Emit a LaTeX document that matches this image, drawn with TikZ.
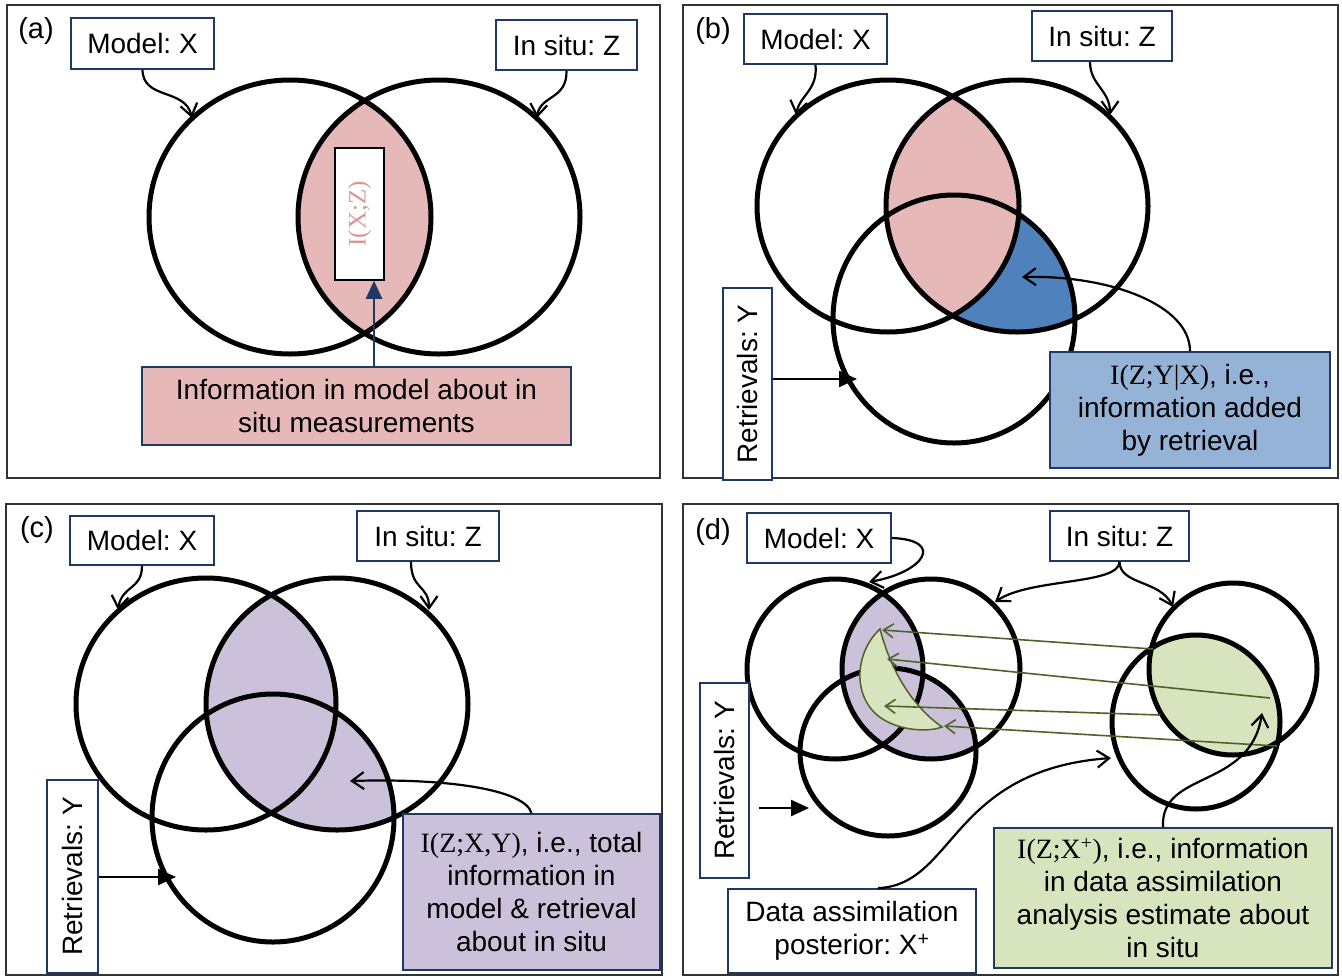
\documentclass[tikz,border=0pt]{standalone}
\usepackage{fontspec}
\setmainfont{Liberation Sans}
\newfontfamily\eqfont{Liberation Serif}
\frenchspacing
\usetikzlibrary{arrows.meta}
\definecolor{BoxClr}{rgb}{0.122,0.220,0.392}
\definecolor{PinkClr}{rgb}{0.902,0.725,0.722}
\definecolor{PinkTxt}{rgb}{0.851,0.588,0.580}
\definecolor{BlueClr}{rgb}{0.310,0.506,0.741}
\definecolor{BlueBox}{rgb}{0.584,0.702,0.843}
\definecolor{LilacClr}{rgb}{0.800,0.757,0.855}
\definecolor{LeafClr}{rgb}{0.843,0.894,0.741}
\definecolor{OliveClr}{rgb}{0.310,0.384,0.157}

\begin{document}
\begin{tikzpicture}[x=1pt,y=-1pt,
  panel/.style={draw=black!80,line width=2pt},
  ring/.style={draw=black,line width=5pt},
  tag/.style={draw=BoxClr,line width=1.8pt,fill=white,inner sep=0pt,
    font=\fontsize{28}{33}\selectfont},
  note/.style={tag,align=center},
  letter/.style={font=\fontsize{29}{33}\selectfont},
  pointer/.style={line width=2.2pt,-{Straight Barb[length=12pt,width=17pt]}},
  push/.style={line width=2.4pt,-{Triangle[length=18pt,width=16pt]}},
  ray/.style={draw=OliveClr,line width=1.6pt,-{Straight Barb[length=10pt,width=14pt]}}]
\useasboundingbox (0,0) rectangle (1342,978);
\fill[white] (0,0) rectangle (1342,978);

% (a)
\draw[panel] (7,5) rectangle (660,478);
\node[letter] (a-tag) at (36,31) {(a)};
\node[tag,minimum width=143,minimum height=51] (a-model) at (142.5,43.5) {Model: X};
\node[tag,minimum width=141,minimum height=50] (a-situ) at (566.5,45) {In situ: Z};
\coordinate (a-X) at (290,217);
\coordinate (a-Z) at (439,217);
\begin{scope}
  \clip (a-X) ellipse [x radius=141,y radius=137];
  \fill[PinkClr] (a-Z) ellipse [x radius=141,y radius=137];
\end{scope}
\draw[ring] (a-X) ellipse [x radius=141,y radius=137]
            (a-Z) ellipse [x radius=141,y radius=137];
\node[draw=black,line width=1.5pt,fill=white,inner sep=0pt,rotate=90,
  minimum width=132,minimum height=49,text=PinkTxt,
  font=\eqfont\fontsize{25}{30}\selectfont] (a-mi) at (359.5,214) {I(X;Z)};
\node[note,fill=PinkClr,minimum width=429,minimum height=78] (a-info) at (356.5,406)
  {Information in model about in\\situ measurements};
\coordinate (a-tipX) at (192,118);
\coordinate (a-tipZ) at (537,118);
\coordinate (a-foot) at (374,367);
\draw[pointer] (a-model.south) .. controls (143,100) and (185,88) .. (a-tipX);
\draw[pointer] (a-situ.south) .. controls (567,100) and (540,95) .. (a-tipZ);
\draw[push,draw=BoxClr,fill=BoxClr] (a-foot) -- (a-foot |- a-mi.west);

% (b)
\draw[panel] (683,5) rectangle (1338,478);
\node[letter] (b-tag) at (713,31) {(b)};
\node[tag,minimum width=143,minimum height=50] (b-model) at (815.5,39) {Model: X};
\node[tag,minimum width=140,minimum height=50] (b-situ) at (1102,36) {In situ: Z};
\coordinate (b-X) at (888,206);
\coordinate (b-Z) at (1017,206);
\coordinate (b-Y) at (954,319);
\begin{scope}
  \clip (b-Z) ellipse [x radius=131,y radius=126];
  \fill[BlueClr] (b-Y) ellipse [x radius=121,y radius=124];
  \clip (b-X) ellipse [x radius=131,y radius=126];
  \fill[PinkClr] (b-Z) ellipse [x radius=131,y radius=126];
\end{scope}
\draw[ring] (b-X) ellipse [x radius=131,y radius=126]
            (b-Z) ellipse [x radius=131,y radius=126]
            (b-Y) ellipse [x radius=121,y radius=124];
\node[tag,rotate=90,minimum width=192,minimum height=49] (b-ret) at (747.5,384) {Retrievals: Y};
\node[note,fill=BlueBox,minimum width=280,minimum height=116] (b-gain) at (1190,410)
  {{\eqfont I(Z;Y|X)}, i.e.,\\information added\\by retrieval};
\coordinate (b-tipX) at (796,115);
\coordinate (b-tipZ) at (1110,115);
\coordinate (b-hit) at (857,379);
\coordinate (b-tipgain) at (1022,277);
\draw[pointer] (b-model.south) .. controls (818,90) and (800,95) .. (b-tipX);
\draw[pointer] ([xshift=-12pt]b-situ.south) .. controls (1090,85) and (1110,90) .. (b-tipZ);
\draw[push] (b-ret.south |- b-hit) -- (b-hit);
\draw[pointer] (b-gain.north) .. controls (1190,305) and (1110,275) .. (b-tipgain);

% (c)
\draw[panel] (6,504) rectangle (662,975);
\node[letter] (c-tag) at (37,530) {(c)};
\node[tag,minimum width=144,minimum height=49] (c-model) at (142,540.5) {Model: X};
\node[tag,minimum width=142,minimum height=50] (c-situ) at (428,536) {In situ: Z};
\coordinate (c-X) at (206,704);
\coordinate (c-Z) at (337,704);
\coordinate (c-Y) at (273,818);
\begin{scope}
  \clip (c-Z) ellipse [x radius=131,y radius=126];
  \fill[LilacClr] (c-X) ellipse [x radius=130,y radius=126]
                  (c-Y) ellipse [x radius=121,y radius=124];
\end{scope}
\draw[ring] (c-X) ellipse [x radius=130,y radius=126]
            (c-Z) ellipse [x radius=131,y radius=126]
            (c-Y) ellipse [x radius=121,y radius=124];
\node[tag,rotate=90,minimum width=193,minimum height=51] (c-ret) at (72.5,876.5) {Retrievals: Y};
\node[note,fill=LilacClr,minimum width=257,minimum height=156] (c-total) at (531.5,892)
  {{\eqfont I(Z;X,Y)}, i.e., total\\information in\\model \& retrieval\\about in situ};
\coordinate (c-tipX) at (118,610);
\coordinate (c-tipZ) at (429,610);
\coordinate (c-hit) at (176,877);
\coordinate (c-tiptotal) at (350,781);
\draw[pointer] (c-model.south) .. controls (142,590) and (122,585) .. (c-tipX);
\draw[pointer] ([xshift=-17pt]c-situ.south) .. controls (411,590) and (429,585) .. (c-tipZ);
\draw[push] (c-ret.south |- c-hit) -- (c-hit);
\draw[pointer] (c-total.north) .. controls (525,790) and (450,778) .. (c-tiptotal);

% (d)
\draw[panel] (683,504) rectangle (1338,975);
\node[letter] (d-tag) at (713,532) {(d)};
\node[tag,minimum width=144,minimum height=50] (d-model) at (819,538) {Model: X};
\node[tag,minimum width=139,minimum height=50] (d-situ) at (1119.5,536) {In situ: Z};
\coordinate (d-X) at (835,669);
\coordinate (d-Z) at (931,669);
\coordinate (d-Y) at (888,752);
\coordinate (d-A) at (1233,669);
\coordinate (d-B) at (1196,722);
\begin{scope}
  \clip (d-Z) ellipse [x radius=89,y radius=90];
  \fill[LilacClr] (d-X) ellipse [x radius=88,y radius=90]
                  (d-Y) ellipse [x radius=88,y radius=84];
\end{scope}
\begin{scope}
  \clip (d-A) ellipse [x radius=84,y radius=86];
  \fill[LeafClr] (d-B) ellipse [x radius=84,y radius=87];
\end{scope}
\draw[ring] (d-X) ellipse [x radius=88,y radius=90]
            (d-Z) ellipse [x radius=89,y radius=90]
            (d-Y) ellipse [x radius=88,y radius=84]
            (d-A) ellipse [x radius=84,y radius=86]
            (d-B) ellipse [x radius=84,y radius=87];
\filldraw[fill=LeafClr,draw=OliveClr,line width=1.5pt]
  (880,629) .. controls (852,655) and (852,705) .. (888,722)
  .. controls (908,732) and (932,731) .. (942,727)
  .. controls (915,708) and (892,675) .. (880,629) -- cycle;
\coordinate (d-r1s) at (1153,649); \coordinate (d-r1e) at (882,630);
\coordinate (d-r2s) at (1270,698); \coordinate (d-r2e) at (887,659);
\coordinate (d-r3s) at (1160,715); \coordinate (d-r3e) at (884,706);
\coordinate (d-r4s) at (1277,746); \coordinate (d-r4e) at (944,726);
\draw[ray] (d-r1s) -- (d-r1e);
\draw[ray] (d-r2s) -- (d-r2e);
\draw[ray] (d-r3s) -- (d-r3e);
\draw[ray] (d-r4s) -- (d-r4e);
\node[tag,rotate=90,minimum width=195,minimum height=49] (d-ret) at (724.5,780.5) {Retrievals: Y};
\node[note,minimum width=248,minimum height=84] (d-post) at (852,931)
  {Data assimilation\\posterior: X\textsuperscript{+}};
\node[note,fill=LeafClr,minimum width=338,minimum height=140] (d-gain) at (1163,898)
  {{\eqfont I(Z;X\textsuperscript{+})}, i.e., information\\in data assimilation\\analysis estimate about\\in situ};
\coordinate (d-tipX) at (869,582);
\coordinate (d-tipZ) at (995,602);
\coordinate (d-tipA) at (1173,607);
\coordinate (d-hit) at (809,808);
\coordinate (d-tippost) at (1111,758);
\coordinate (d-tipgain) at (1262,713);
\draw[pointer] (d-model.east) .. controls (945,540) and (925,572) .. (d-tipX);
\draw[pointer] (d-situ.south) .. controls (1119,585) and (1030,578) .. (d-tipZ);
\draw[pointer] (d-situ.south) .. controls (1120,585) and (1160,580) .. (d-tipA);
\draw[push,shorten <=9pt] (d-ret.south |- d-hit) -- (d-hit);
\draw[pointer] ([xshift=26pt]d-post.north) .. controls (955,885) and (950,770) .. (d-tippost);
\draw[pointer] (d-gain.north) .. controls (1160,770) and (1250,790) .. (d-tipgain);
\end{tikzpicture}
\end{document}
